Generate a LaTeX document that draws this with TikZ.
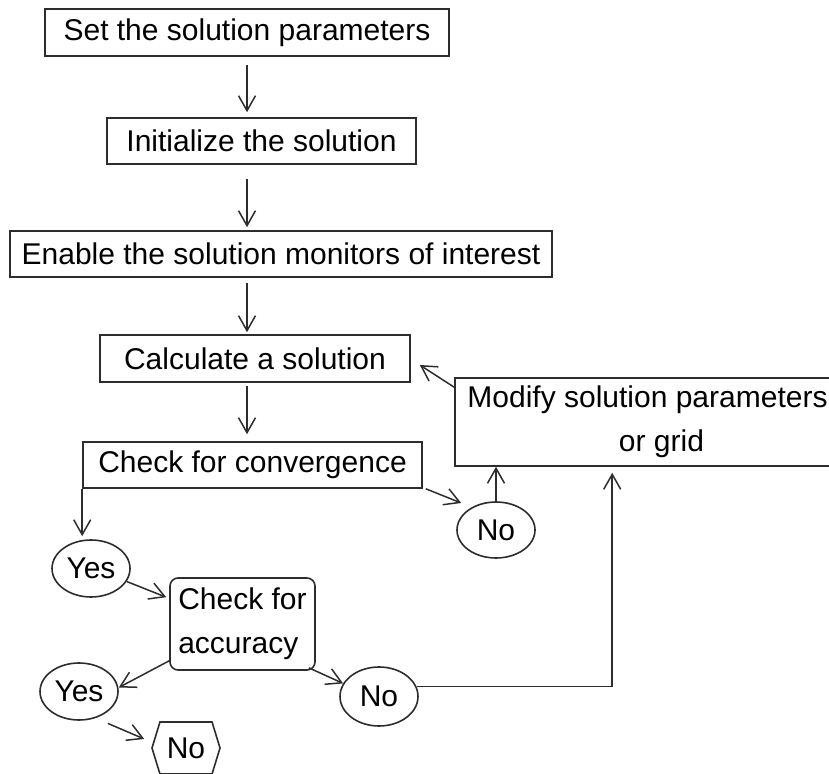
\documentclass[tikz,border=0pt]{standalone}
\usepackage{fontspec}
\setmainfont{Liberation Sans}
\usetikzlibrary{positioning,arrows.meta,shapes.geometric,shapes.symbols}
\definecolor{linegray}{RGB}{45,45,45}
\tikzset{
  stepbox/.style ={rectangle, draw=linegray, line width=0.8pt, inner sep=0pt,
                   minimum height=23.5pt},
  answer/.style  ={ellipse, draw=linegray, line width=0.8pt, inner sep=0pt,
                   minimum width=39pt, minimum height=28.5pt},
  checkbox/.style={rectangle, rounded corners=4pt, draw=linegray, line width=0.8pt,
                   align=left, inner sep=0pt, minimum width=72.5pt, minimum height=46pt},
  endbox/.style  ={signal, signal to=west and east, signal pointer angle=146,
                   draw=linegray, line width=0.8pt, inner sep=0pt,
                   minimum width=34pt, minimum height=26pt},
  flow/.style    ={-{Straight Barb[length=7.5pt,width=8.5pt]}, line width=0.75pt, draw=linegray},
}

\begin{document}
\begin{tikzpicture}[x=0.5pt, y=-0.5pt, font=\fontsize{15pt}{22pt}\selectfont]
\useasboundingbox (0,0) rectangle (829,774);
\clip (0,0) rectangle (829,774);
% main column
\node[stepbox, minimum width=202pt] (a) at (247,32.5) {Set the solution parameters};
\node[stepbox, minimum width=154.5pt, minimum height=23pt] (b) at (261.5,141) {Initialize the solution};
\node[stepbox, minimum width=271pt, minimum height=23pt] (c) at (281,254) {Enable the solution monitors of interest};
\node[stepbox, minimum width=155pt] (d) at (255,358.5) {Calculate a solution};
\node[stepbox, minimum width=169.5pt, minimum height=23pt] (e) at (252.5,465) {Check for convergence};
\node[stepbox, minimum width=192.5pt, minimum height=44pt, align=center] (f) at (647.5,422) {Modify solution parameters\\\hspace*{14pt}or grid};
% decisions
\node[answer, minimum height=28pt] (n1) at (496,530) {No};
\node[answer] (y1) at (91,568.5) {Yes};
\node[checkbox] (acc) at (242.5,624) {Check for\\accuracy};
\node[answer] (y2) at (79,691.5) {Yes};
\node[answer, minimum height=29.5pt] (n2) at (379,696.5) {No};
\node[endbox] (h) at (186,748) {No};
\foreach \x/\y/\s/\t in {a/b/4pt/2.5pt, b/c/7pt/1.5pt, c/d/2.5pt/1pt, d/e/1.5pt/3.5pt}
  \draw[flow, shorten <=\s, shorten >=\t] (\x.south -| a) -- (\y.north -| a);
\draw[flow] ([yshift=-5pt]f.north west) -- ([xshift=4.5pt,yshift=-3.25pt]d.east);
\draw[flow] ([xshift=1.5pt]e.south east) -- ([xshift=2.5pt,yshift=13.5pt]n1.west);
\draw[flow] (n1.north) -- (n1.north |- f.south);
\draw[flow, shorten >=1.5pt] (e.south west) -- (e.south west |- y1.north);
\draw[flow] (y1.-20) -- ([xshift=-1.5pt,yshift=-10pt]acc.north west);
\draw[flow] ([yshift=5pt]acc.south west) -- ([yshift=2pt]y2.east);
\draw[flow] ([xshift=-3.5pt,yshift=1.5pt]acc.south east) -- (n2.160);
\draw[flow, shorten >=3pt] (n2.15) -| ([xshift=79pt]f.south west);
\draw[flow] ([xshift=4pt,yshift=-3.5pt]y2.-50) -- ([xshift=-3.5pt,yshift=4.5pt]h.west);
\end{tikzpicture}
\end{document}
